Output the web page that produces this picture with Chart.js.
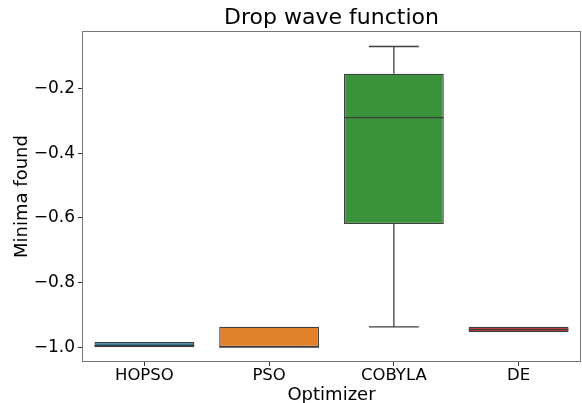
<!DOCTYPE html>
<html>
<head>
<meta charset="utf-8">
<script src="https://cdn.jsdelivr.net/npm/chart.js@4/dist/chart.umd.min.js"></script>
<style>
  html, body { margin: 0; padding: 0; background: #fff; }
  #wrap { width: 582px; height: 403px; }
</style>
</head>
<body>
<div id="wrap"><canvas id="chart" width="582" height="403"></canvas></div>
<script>
"use strict";

// data
const optimizers = ["HOPSO", "PSO", "COBYLA", "DE"];
const lowWhisker = [-1.0, -1.0, -0.937, -0.954];
const q1 = [-1.0, -1.0, -0.619, -0.954];
const medians = [-0.995, -1.0, -0.289, -0.946];
const q3 = [-0.984, -0.937, -0.153, -0.937];
const highWhisker = [-0.984, -0.937, -0.069, -0.937];
const yTicks = [-1.0, -0.8, -0.6, -0.4, -0.2];

const boxColors = ["#3274a1", "#e1812c", "#3a923a", "#c03d3e"];
const lineColor = "#3f3f3f";

// whiskers + median lines, drawn on top of the floating bars
const boxLines = {
  id: "boxLines",
  afterLayout(chart) {
    // centre the title over the plot area like matplotlib does
    let t = chart.titleBlock;
    if (t) {
      t.left = chart.chartArea.left;
      t.right = chart.chartArea.right;
      t.width = t.right - t.left;
    }
  },
  afterDatasetsDraw(chart) {
    let ctx = chart.ctx;
    let y = chart.scales.y;
    let meta = chart.getDatasetMeta(0);
    ctx.save();
    ctx.lineWidth = 1.3;
    ctx.strokeStyle = lineColor;
    meta.data.forEach((bar, i) => {
      let x = bar.x;
      let half = bar.width / 2;
      let cap = half / 2;
      let yLo = y.getPixelForValue(lowWhisker[i]);
      let yQ1 = y.getPixelForValue(q1[i]);
      let yQ3 = y.getPixelForValue(q3[i]);
      let yHi = y.getPixelForValue(highWhisker[i]);
      let yMed = y.getPixelForValue(medians[i]);
      ctx.beginPath();
      if (yLo - yQ1 > 0.5) {
        ctx.moveTo(x, yQ1); ctx.lineTo(x, yLo);
        ctx.moveTo(x - cap, yLo); ctx.lineTo(x + cap, yLo);
      }
      if (yQ3 - yHi > 0.5) {
        ctx.moveTo(x, yQ3); ctx.lineTo(x, yHi);
        ctx.moveTo(x - cap, yHi); ctx.lineTo(x + cap, yHi);
      }
      ctx.moveTo(x - half, yMed); ctx.lineTo(x + half, yMed);
      ctx.stroke();
    });
    // frame round the plot area
    let a = chart.chartArea;
    ctx.strokeStyle = "#777";
    ctx.lineWidth = 1;
    ctx.strokeRect(a.left + 0.5, a.top + 0.5, a.right - a.left - 1, a.bottom - a.top - 1);
    ctx.restore();
  }
};

Chart.defaults.font.family = "'DejaVu Sans', sans-serif";
Chart.defaults.color = "#000";

let ctx = document.getElementById("chart").getContext("2d");
let myChart = new Chart(ctx, {
  type: "bar",
  data: {
    labels: optimizers,
    datasets: [{
      data: optimizers.map((o, i) => [q1[i], q3[i]]),
      backgroundColor: boxColors,
      borderColor: lineColor,
      borderWidth: 1.3,
      borderSkipped: false,
      barPercentage: 0.8,
      categoryPercentage: 1.0
    }]
  },
  plugins: [boxLines],
  options: {
    responsive: false,
    animation: false,
    layout: { padding: { right: 1, left: 0, top: 0, bottom: 0 } },
    plugins: {
      legend: { display: false },
      tooltip: { enabled: false },
      title: {
        display: true,
        text: "Drop wave function",
        font: { size: 22, weight: "normal", lineHeight: 1.0 },
        padding: { top: 7, bottom: 2 }
      }
    },
    scales: {
      x: {
        grid: { offset: false, drawOnChartArea: false, drawTicks: true, tickLength: 4, color: "#333" },
        border: { display: false },
        ticks: { font: { size: 16.5 }, padding: 0, color: "#000" },
        title: { display: true, text: "Optimizer", font: { size: 18, lineHeight: 0.8 }, padding: { top: 0, bottom: 0 } },
        afterFit(scale) { scale.height = 41; }
      },
      y: {
        min: -1.046,
        max: -0.021,
        grid: { drawOnChartArea: false, drawTicks: true, tickLength: 4, color: "#333" },
        border: { display: false },
        afterBuildTicks(scale) { scale.ticks = yTicks.map(v => ({ value: v })); },
        ticks: {
          font: { size: 17 },
          padding: 3,
          color: "#000",
          callback: v => (v < 0 ? "\u2212" : "") + Math.abs(v).toFixed(1)
        },
        title: { display: true, text: "Minima found", font: { size: 18, lineHeight: 1.0 }, padding: { top: 13, bottom: 0 } },
        afterFit(scale) { scale.width = 82; }
      }
    }
  }
});
</script>
</body>
</html>
